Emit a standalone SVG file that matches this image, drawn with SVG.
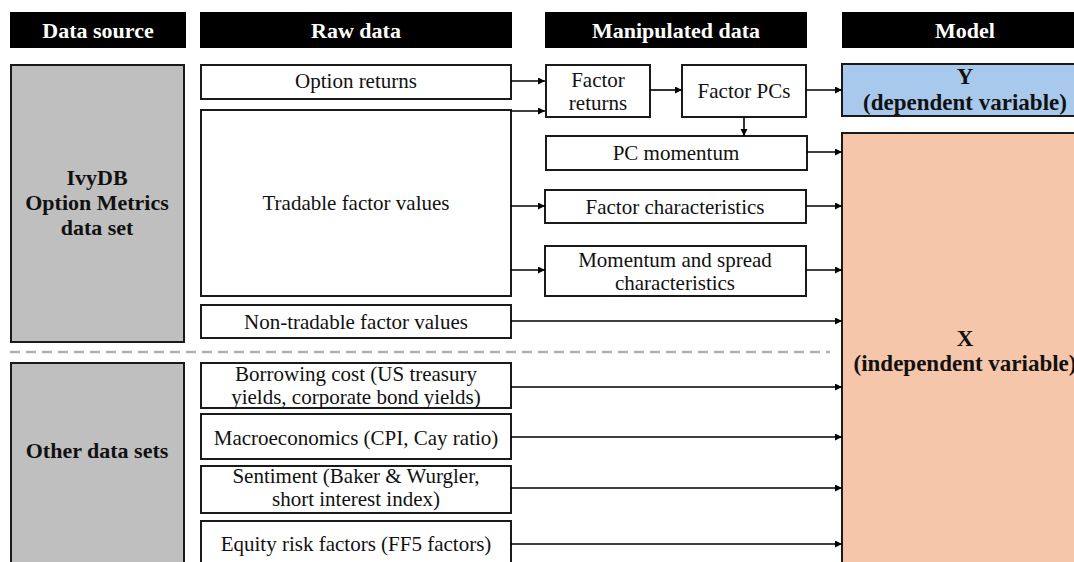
<svg xmlns="http://www.w3.org/2000/svg" width="1074" height="562" viewBox="0 0 1074 562">
  <style>
    text { font-family: "Liberation Serif", "Times New Roman", serif; text-anchor: middle; fill: #111; }
    .hdr rect { fill: #000; }
    .hdr text { fill: #fff; font-weight: bold; font-size: 22px; }
    .src { fill: #bfbfbf; stroke: #1a1a1a; stroke-width: 2; }
    .box { fill: #fff; stroke: #1a1a1a; stroke-width: 2; }
    .b { font-weight: bold; font-size: 22px; }
    .m { font-weight: bold; font-size: 23px; }
    .t { font-size: 21px; }
    .yv { fill: #a9c9ec; stroke: #1a1a1a; stroke-width: 2; }
    .xv { fill: #f5c6aa; stroke: #1a1a1a; stroke-width: 2; }
    .conn line { stroke: #000; stroke-width: 1.6; marker-end: url(#ah); }
    .sep { stroke: #b0b0b0; stroke-width: 2.5; stroke-dasharray: 10 6; }
  </style>
  <defs>
    <marker id="ah" markerUnits="userSpaceOnUse" markerWidth="8" markerHeight="8" refX="7" refY="3.5" orient="auto">
      <path d="M0,0 L7,3.5 L0,7 Z" fill="#000"/>
    </marker>
  </defs>

  <rect width="1074" height="562" fill="#fff"/>

  <!-- column headers -->
  <g id="headers" class="hdr">
    <rect x="10" y="12" width="176" height="36"/>
    <text x="98" y="37.5">Data source</text>
    <rect x="200" y="12" width="312" height="36"/>
    <text x="356" y="37.5">Raw data</text>
    <rect x="545" y="12" width="262" height="36"/>
    <text x="676" y="37.5">Manipulated data</text>
    <rect x="842" y="12" width="250" height="36"/>
    <text x="965" y="37.5">Model</text>
  </g>

  <!-- data sources -->
  <g id="ivydb">
    <rect class="src" x="11" y="65" width="173" height="277"/>
    <text class="b" x="97" y="185">IvyDB</text>
    <text class="b" x="97" y="210">Option Metrics</text>
    <text class="b" x="97" y="235">data set</text>
  </g>
  <g id="other-sets">
    <rect class="src" x="11" y="363" width="173" height="210"/>
    <text class="b" x="97" y="458">Other data sets</text>
  </g>

  <line class="sep" x1="10" y1="352" x2="830" y2="352"/>

  <!-- raw data -->
  <g id="option-returns">
    <rect class="box" x="201" y="65" width="310" height="34"/>
    <text class="t" x="356" y="88">Option returns</text>
  </g>
  <g id="tradable">
    <rect class="box" x="201" y="110" width="310" height="186"/>
    <text class="t" x="356" y="210">Tradable factor values</text>
  </g>
  <g id="non-tradable">
    <rect class="box" x="201" y="305" width="310" height="33"/>
    <text class="t" x="356" y="329">Non-tradable factor values</text>
  </g>
  <g id="borrowing">
    <rect class="box" x="201" y="363" width="310" height="45"/>
    <text class="t" x="356" y="381">Borrowing cost (US treasury</text>
    <text class="t" x="356" y="404">yields, corporate bond yields)</text>
  </g>
  <g id="macro">
    <rect class="box" x="201" y="414" width="310" height="45"/>
    <text class="t" x="356" y="445">Macroeconomics (CPI, Cay ratio)</text>
  </g>
  <g id="sentiment">
    <rect class="box" x="201" y="466" width="310" height="47"/>
    <text class="t" x="356" y="483">Sentiment (Baker &amp; Wurgler,</text>
    <text class="t" x="356" y="506">short interest index)</text>
  </g>
  <g id="equity">
    <rect class="box" x="201" y="521" width="310" height="50"/>
    <text class="t" x="356" y="551">Equity risk factors (FF5 factors)</text>
  </g>

  <!-- manipulated data -->
  <g id="factor-returns">
    <rect class="box" x="546" y="65" width="104" height="52"/>
    <text class="t" x="598" y="87">Factor</text>
    <text class="t" x="598" y="110">returns</text>
  </g>
  <g id="factor-pcs">
    <rect class="box" x="682" y="65" width="124" height="52"/>
    <text class="t" x="744" y="98">Factor PCs</text>
  </g>
  <g id="pc-momentum">
    <rect class="box" x="546" y="136" width="261" height="34"/>
    <text class="t" x="676" y="160">PC momentum</text>
  </g>
  <g id="factor-char">
    <rect class="box" x="545" y="190" width="261" height="33"/>
    <text class="t" x="675" y="213.5">Factor characteristics</text>
  </g>
  <g id="mom-spread">
    <rect class="box" x="545" y="246" width="261" height="50"/>
    <text class="t" x="675" y="267">Momentum and spread</text>
    <text class="t" x="675" y="290">characteristics</text>
  </g>

  <!-- model -->
  <g id="y-var">
    <rect class="yv" x="842" y="64" width="260" height="52"/>
    <text class="m" x="965" y="84">Y</text>
    <text class="m" x="965" y="110">(dependent variable)</text>
  </g>
  <g id="x-var">
    <rect class="xv" x="842" y="133" width="260" height="450"/>
    <text class="m" x="965" y="346">X</text>
    <text class="m" x="965" y="371">(independent variable)</text>
  </g>

  <!-- connectors -->
  <g id="connectors" class="conn">
    <line x1="511" y1="81" x2="545" y2="81"/>
    <line x1="511" y1="111" x2="545" y2="111"/>
    <line x1="650" y1="90" x2="682" y2="90"/>
    <line x1="806" y1="90" x2="842" y2="90"/>
    <line x1="744" y1="117" x2="744" y2="136"/>
    <line x1="807" y1="152" x2="842" y2="152"/>
    <line x1="511" y1="206" x2="545" y2="206"/>
    <line x1="806" y1="206" x2="842" y2="206"/>
    <line x1="511" y1="270" x2="545" y2="270"/>
    <line x1="806" y1="270" x2="842" y2="270"/>
    <line x1="511" y1="321" x2="842" y2="321"/>
    <line x1="511" y1="387" x2="842" y2="387"/>
    <line x1="511" y1="437" x2="842" y2="437"/>
    <line x1="511" y1="488" x2="842" y2="488"/>
    <line x1="511" y1="544" x2="842" y2="544"/>
  </g>
</svg>
